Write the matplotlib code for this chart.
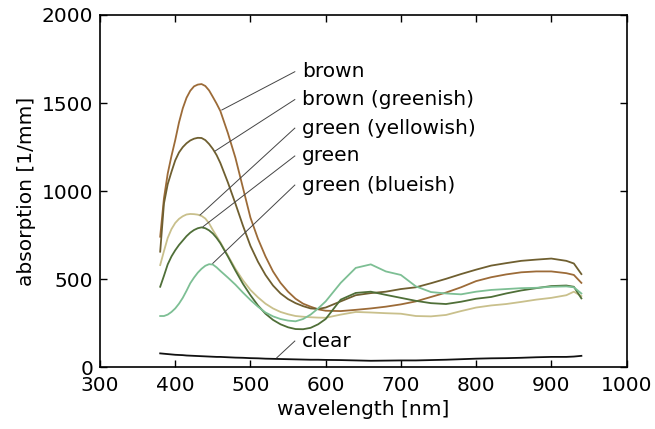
import matplotlib
matplotlib.use("Agg")
import matplotlib.pyplot as plt

# wavelength grid [nm] and absorption values [1/mm]
wavelength = [380, 385, 390, 395, 400, 405, 410, 415, 420, 425, 430, 435, 440, 445, 450, 455, 460,
              470, 480, 490, 500, 510, 520, 530, 540, 550, 560, 570, 580, 590, 600,
              620, 640, 660, 680, 700, 720, 740, 760, 780, 800, 820, 840, 860, 880, 900, 920, 930, 940]

brown = [742, 960, 1100, 1200, 1290, 1390, 1470, 1530, 1570, 1595, 1605, 1608, 1597, 1572, 1535, 1497, 1455,
         1330, 1190, 1020, 850, 730, 630, 545, 480, 430, 390, 362, 345, 330, 322,
         320, 327, 335, 345, 358, 375, 400, 425, 455, 490, 512, 528, 540, 545, 545, 535, 525, 480]
brown_greenish = [657, 930, 1040, 1110, 1175, 1220, 1250, 1272, 1288, 1298, 1303, 1302, 1290, 1268, 1240, 1205, 1160,
                  1050, 930, 805, 690, 600, 525, 465, 420, 388, 365, 348, 335, 332, 340,
                  375, 410, 422, 430, 445, 455, 478, 503, 530, 555, 578, 592, 605, 612, 618, 605, 590, 530]
green_yellowish = [581, 660, 735, 785, 820, 843, 858, 868, 871, 870, 867, 860, 845, 818, 780, 745, 710,
                   635, 560, 495, 440, 398, 362, 335, 315, 302, 292, 288, 285, 283, 282,
                   300, 315, 312, 308, 305, 292, 290, 298, 320, 340, 352, 360, 372, 385, 395, 410, 430, 405]
green = [458, 520, 585, 630, 665, 695, 720, 745, 765, 780, 790, 795, 790, 778, 760, 735, 705,
         630, 550, 475, 410, 352, 305, 270, 245, 228, 218, 217, 225, 245, 275,
         385, 423, 430, 412, 395, 378, 365, 360, 373, 390, 400, 420, 437, 450, 462, 465, 458, 392]
green_blueish = [292, 292, 300, 315, 335, 362, 395, 435, 478, 510, 538, 560, 577, 586, 584, 568, 548,
                 510, 470, 425, 383, 345, 312, 290, 275, 266, 262, 275, 300, 335, 375,
                 480, 565, 585, 545, 525, 460, 428, 420, 415, 430, 440, 445, 450, 452, 458, 460, 455, 420]
clear = [80, 78, 76, 74, 72, 71, 70, 68, 67, 66, 65, 64, 63, 62, 61, 60, 60,
         58, 56, 55, 53, 52, 50, 49, 48, 47, 46, 45, 44, 44, 43,
         42, 40, 38, 39, 40, 40, 42, 44, 47, 50, 52, 53, 55, 58, 60, 60, 62, 66]

names = ["brown", "brown (greenish)", "green (yellowish)", "green", "green (blueish)", "clear"]
series = [brown, brown_greenish, green_yellowish, green, green_blueish, clear]
colors = ["#9c6b38", "#6f5f30", "#c9c08c", "#4f6f38", "#7dbf94", "#111111"]

# where each label line touches its curve, and where the label sits
anchor_x = [462, 453, 433, 437, 450, 535]
anchor_y = [1461, 1228, 865, 799, 591, 55]
label_y = [1678, 1520, 1358, 1200, 1035, 150]
label_x = 569
line_end_x = 559

plt.rcParams["font.family"] = "DejaVu Sans"
fig = plt.figure(figsize=(6.55, 4.29), dpi=100)
ax = fig.add_axes([0.1527, 0.1434, 0.8038, 0.8217])

for vals, col in zip(series, colors):
    ax.plot(wavelength, vals, color=col, lw=1.3)

for name, ax_, ay_, ly in zip(names, anchor_x, anchor_y, label_y):
    ax.plot([ax_, line_end_x], [ay_, ly], color="#444444", lw=0.7)
    ax.text(label_x, ly, name, ha="left", va="center", fontsize=14.5)

ax.set_xlim(300, 1000)
ax.set_ylim(0, 2000)
ax.set_xticks(range(300, 1001, 100))
ax.set_yticks(range(0, 2001, 500))
ax.tick_params(direction="in", top=True, right=True, length=5, width=1,
               labelsize=14.5, pad=5)
ax.tick_params(axis="x", pad=6)
for sp in ax.spines.values():
    sp.set_linewidth(1.2)

ax.set_xlabel("wavelength [nm]", fontsize=14.5)
ax.set_ylabel("absorption [1/mm]", fontsize=14.5)

fig.savefig("out.png", dpi=100)
